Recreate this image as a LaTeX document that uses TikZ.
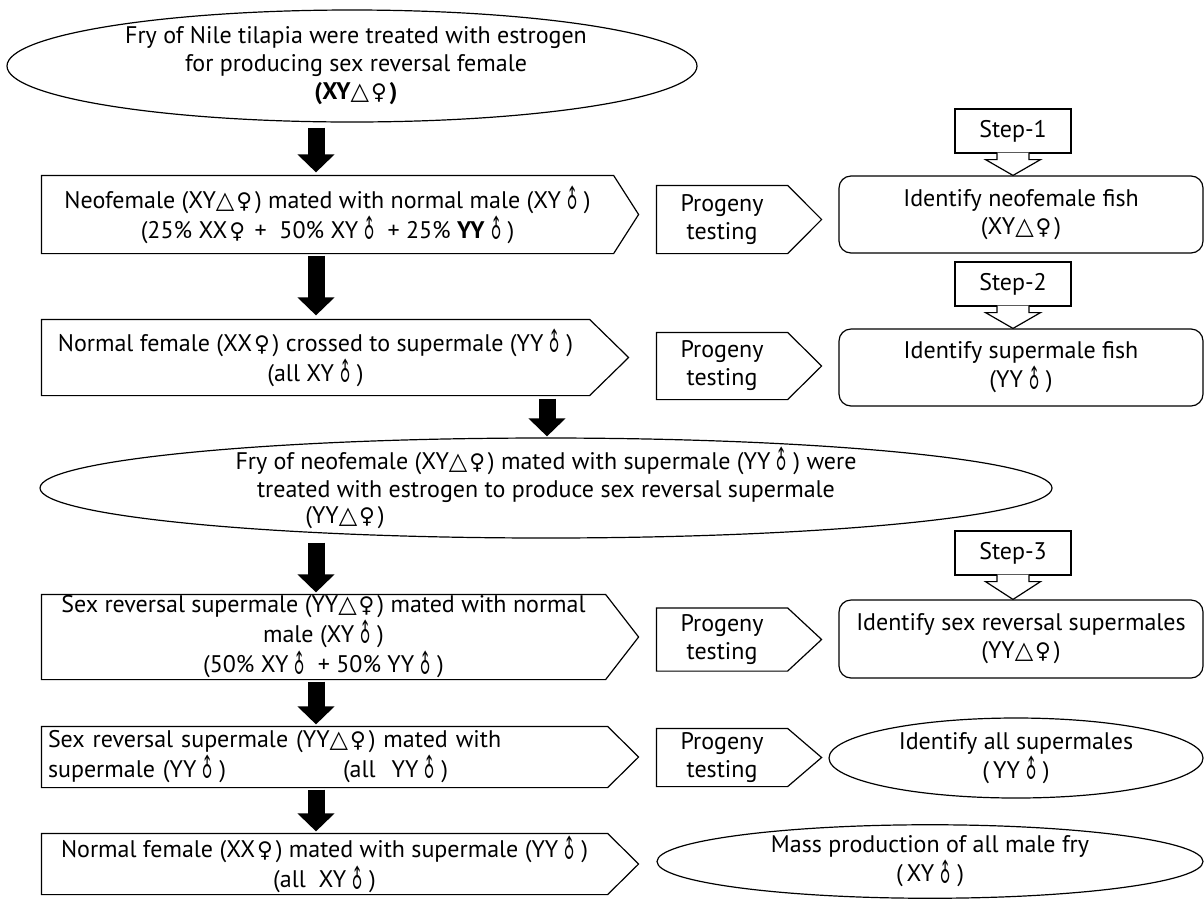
\documentclass[tikz,border=0pt]{standalone}
\usepackage{fontspec}
\usepackage{graphicx}
\setmainfont{PT Sans}
\newfontfamily\symf{DejaVu Sans}
\usetikzlibrary{shapes.geometric,arrows.meta,calc}
\newcommand\fe{\hspace{0.08em}{\symf\scalebox{0.9}{♀}}\hspace{0.12em}}
\newcommand\ma{\hspace{0.12em}\scalebox{0.62}[1.05]{\rotatebox[origin=c]{45}{\symf ♂}}\hspace{0.12em}}
\newcommand\tri{{\symf △}}
\newcommand\pent[2]{\draw (#1.north west) -- (#1.north east) -- ([xshift=#2]#1.east) -- (#1.south east) -- (#1.south west) -- cycle;}
\newcommand\stepcall[2]{\draw[fill=white] ([xshift=-16pt,yshift=1pt]#1.south) -- ([xshift=-16pt,yshift=-6pt]#1.south) -- ([xshift=-27.5pt,yshift=-6pt]#1.south) -- (#1.south |- #2.north) -- ([xshift=27.5pt,yshift=-6pt]#1.south) -- ([xshift=16pt,yshift=-6pt]#1.south) -- ([xshift=16pt,yshift=1pt]#1.south);}
\begin{document}
\begin{tikzpicture}[x=1pt,y=-1pt,line width=1.2pt,
  txt/.style={font=\fontsize{24}{28}\selectfont,align=center,inner sep=0pt},
  oval/.style={ellipse,draw,inner sep=0pt},
  rbox/.style={txt,draw,rounded corners=12pt},
  stepbox/.style={txt,draw,minimum width=116pt,minimum height=44pt},
  bigarrow/.style={line width=17pt,-{Triangle[width=36pt,length=18pt]}}]
\useasboundingbox[fill=white] (0,0) rectangle (1204,898);
\coordinate (colA) at (316,0);
\coordinate (colB) at (547,0);
% top ellipse
\node[oval,minimum width=690pt,minimum height=112pt] (e1) at (352,66) {};
\node[txt] (e1t) at (356,66) {Fry of Nile tilapia were treated with estrogen\\for producing sex reversal female\\\textbf{(XY\tri\fe)}};
% row 1
\node[txt,minimum width=571pt,minimum height=77pt] (b1) at (327.5,214.5) {Neofemale (XY\tri\fe) mated with normal male (XY\ma)\\(25\% XX\fe{} +\ \ 50\% XY\ma{} + 25\% \textbf{YY\ma})};
\pent{b1}{25pt}
\node[txt,minimum width=130pt,minimum height=67pt] (p1) at (722,219.5) {Progeny\\testing};
\pent{p1}{34pt}
\node[rbox,minimum width=364pt,minimum height=77pt] (r1) at (1021,214.5) {Identify neofemale fish\\(XY\tri\fe)};
\node[stepbox] (s1) at (1013,131) {Step-1};
\stepcall{s1}{r1}
% row 2
\node[txt,minimum width=547pt,minimum height=75pt] (b2) at (315.5,357.5) {Normal female (XX\fe) crossed to supermale (YY\ma)\\(all XY\ma)};
\pent{b2}{39pt}
\node[txt,minimum width=130pt,minimum height=66pt] (p2) at (722,366) {Progeny\\testing};
\pent{p2}{34pt}
\node[rbox,minimum width=364pt,minimum height=77pt] (r2) at (1021,367.5) {Identify supermale fish\\(YY\ma)};
\node[stepbox] (s2) at (1013,284) {Step-2};
\stepcall{s2}{r2}
% second ellipse
\node[oval,minimum width=1012pt,minimum height=100pt] (e2) at (546,488) {};
\node[txt] (e2t) at (546,474) {Fry of neofemale (XY\tri\fe) mated with supermale (YY\ma) were\\treated with estrogen to produce sex reversal supermale};
\node[txt] (e2u) at (345,518) {(YY\tri\fe)};
% row 3
\node[txt,minimum width=563pt,minimum height=84pt] (b3) at (323.5,637) {Sex reversal supermale (YY\tri\fe) mated with normal\\male (XY\ma)\\(50\% XY\ma{} + 50\% YY\ma)};
\pent{b3}{33pt}
\node[txt,minimum width=130pt,minimum height=62pt] (p3) at (722,639.5) {Progeny\\testing};
\pent{p3}{34pt}
\node[rbox,minimum width=364pt,minimum height=78pt] (r3) at (1021,639) {Identify sex reversal supermales\\(YY\tri\fe)};
\node[stepbox] (s3) at (1013,553) {Step-3};
\stepcall{s3}{r3}
% row 4
\node[txt,align=left,text width=553pt,inner xsep=6pt,minimum height=60pt] (b4) at (324.5,757) {Sex reversal supermale (YY\tri\fe) mated with\\\makebox[295pt][l]{supermale (YY\ma)}(all\ \ YY\ma)};
\pent{b4}{31pt}
\node[txt,minimum width=130pt,minimum height=57pt] (p4) at (722,757.5) {Progeny\\testing};
\pent{p4}{34pt}
\node[oval,txt,minimum width=374pt,minimum height=80pt] (e3) at (1016,758) {Identify all supermales\\(\,YY\ma)};
% row 5
\node[txt,minimum width=565pt,minimum height=60pt] (b5) at (324.5,864) {Normal female (XX\fe) mated with supermale (YY\ma)\\(all\ \ XY\ma)};
\pent{b5}{31pt}
\node[oval,txt,minimum width=546pt,minimum height=71pt] (e4) at (930,861.5) {Mass production of all male fry\\(\,XY\ma)};
% black arrows
\draw[bigarrow] ($(e1.south -| colA)+(0,5)$) -- ($(b1.north -| colA)+(0,-3)$);
\draw[bigarrow] ($(b1.south -| colA)+(0,2)$) -- ($(b2.north -| colA)+(0,-4)$);
\draw[bigarrow] ($(b2.south -| colB)+(0,3)$) -- ($(e2.north -| colB)+(0,-1)$);
\draw[bigarrow] ($(e2.south -| colA)+(0,4)$) -- ($(b3.north -| colA)+(0,-2)$);
\draw[bigarrow] ($(b3.south -| colA)+(0,2)$) -- ($(b4.north -| colA)+(0,-2)$);
\draw[bigarrow] ($(b4.south -| colA)+(0,2)$) -- ($(b5.north -| colA)+(0,-2)$);
\end{tikzpicture}
\end{document}
